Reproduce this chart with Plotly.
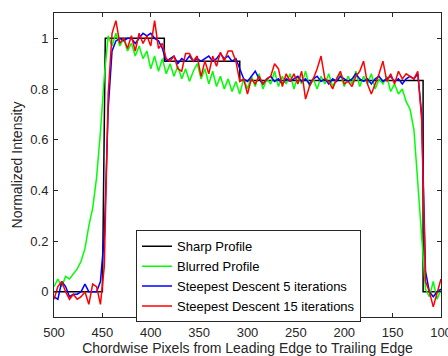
import plotly.graph_objects as go

# ---------------- data ----------------
sharp_x = [500, 450, 447, 386, 386, 308, 308, 118.5, 118.5, 100]
sharp_y = [0, 0, 1, 1, 0.91, 0.91, 0.834, 0.834, 0, 0]

grid_x = [500, 496, 492, 488, 484, 480, 476, 472, 468, 464, 460, 456, 452, 448, 444, 440,
          436, 432, 428, 424, 420, 416, 412, 408, 404, 400, 396, 392, 388, 384, 380, 376,
          372, 368, 364, 360, 356, 352, 348, 344, 340, 336, 332, 328, 324, 320, 316, 312,
          308, 304, 300, 296, 292, 288, 284, 280, 276, 272, 268, 264, 260, 256, 252, 248,
          244, 240, 236, 232, 228, 224, 220, 216, 212, 208, 204, 200, 196, 192, 188, 184,
          180, 176, 172, 168, 164, 160, 156, 152, 148, 144, 140, 136, 132, 128, 124, 120,
          116, 112, 108, 104, 100]

blurred_y = [0.02, 0.05, 0.02, 0.06, 0.05, 0.07, 0.09, 0.12, 0.17, 0.26, 0.33, 0.45, 0.63, 0.85, 1.01, 0.97,
             1.02, 0.97, 1.0, 0.95, 0.98, 0.93, 0.97, 0.92, 0.95, 0.88, 0.93, 0.87, 0.92, 0.86, 0.9, 0.85,
             0.89, 0.84, 0.88, 0.83, 0.87, 0.9, 0.84, 0.88, 0.82, 0.87, 0.81, 0.85, 0.8, 0.84, 0.79, 0.83,
             0.78, 0.84, 0.8, 0.85, 0.81, 0.86, 0.8, 0.84, 0.82, 0.87, 0.81, 0.85, 0.82, 0.86, 0.8, 0.85,
             0.82, 0.87, 0.81, 0.84, 0.8, 0.85, 0.82, 0.86, 0.81, 0.84, 0.86, 0.81, 0.85, 0.82, 0.87, 0.81,
             0.85, 0.82, 0.86, 0.8, 0.84, 0.82, 0.85, 0.79, 0.82, 0.78, 0.8, 0.75, 0.72, 0.64, 0.43, 0.2,
             0.01, -0.02, 0.04, -0.03, 0.01]

sd5_y = [-0.02, -0.03, 0.04, 0.02, -0.02, -0.01, -0.01, 0.0, 0.03, 0.0, 0.0, 0.0, 0.04, 0.22, 0.72, 0.95,
         0.99, 1.0, 0.99, 1.0, 1.0, 0.98, 1.0, 1.02, 1.01, 1.02, 1.0, 0.99, 0.96, 0.91, 0.92, 0.93,
         0.9, 0.92, 0.91, 0.93, 0.91, 0.92, 0.91, 0.92, 0.93, 0.91, 0.92, 0.94, 0.92, 0.93, 0.91, 0.92,
         0.88, 0.84, 0.83, 0.85, 0.87, 0.84, 0.82, 0.84, 0.85, 0.83, 0.84, 0.82, 0.84, 0.83, 0.84, 0.85,
         0.83, 0.84, 0.82, 0.84, 0.85, 0.83, 0.84, 0.82, 0.84, 0.83, 0.85, 0.84, 0.83, 0.84, 0.86, 0.84,
         0.83, 0.84, 0.82, 0.84, 0.85, 0.83, 0.84, 0.85, 0.83, 0.84, 0.82, 0.84, 0.85, 0.84, 0.86, 0.7,
         0.08, 0.0, -0.02, 0.0, 0.01]

sd15_y = [-0.03, 0.02, 0.04, 0.0, -0.03, -0.01, -0.03, -0.02, 0.0, -0.05, 0.03, 0.02, -0.05, 0.1, 0.78, 1.02,
          1.07, 0.98, 1.0, 0.96, 1.01, 0.95, 1.02, 0.98, 1.01, 0.97, 1.07, 0.96, 0.98, 0.92, 0.91, 0.93,
          0.88, 0.87, 0.94, 0.94, 0.91, 0.93, 0.85, 0.91, 0.86, 0.93, 0.89, 0.945, 0.91, 0.95, 0.95, 0.91,
          0.83, 0.84, 0.78, 0.84, 0.82, 0.85, 0.82, 0.84, 0.85, 0.9, 0.88, 0.81, 0.86, 0.83, 0.86, 0.82,
          0.87, 0.76, 0.81, 0.84, 0.88, 0.93, 0.84, 0.83, 0.8, 0.84, 0.87, 0.82, 0.83, 0.81, 0.85, 0.87,
          0.91, 0.82, 0.78, 0.82, 0.86, 0.91, 0.83, 0.86, 0.82, 0.87, 0.84, 0.86, 0.85, 0.84, 0.87, 0.68,
          0.04, 0.0, -0.06, 0.0, 0.05]

names = ["Sharp Profile", "Blurred Profile", "Steepest Descent 5 iterations",
         "Steepest Descent 15 iterations"]
colors = ["#000000", "#00ff00", "#0000ff", "#ff0000"]

x_ticks = [500, 450, 400, 350, 300, 250, 200, 150, 100]
y_ticks = [0, 0.2, 0.4, 0.6, 0.8, 1]
y_tick_text = ["0", "0.2", "0.4", "0.6", "0.8", "1"]

# ---------------- figure ----------------
fig = go.Figure()
series = [(sharp_x, sharp_y), (grid_x, blurred_y), (grid_x, sd5_y), (grid_x, sd15_y)]
for (xs, ys), nm, c in zip(series, names, colors):
    fig.add_trace(go.Scatter(x=xs, y=ys, mode="lines", name=nm,
                             line=dict(color=c, width=1.5)))

axis_common = dict(showline=True, linecolor="#262626", linewidth=1, mirror="ticks",
                   ticks="inside", ticklen=4, tickcolor="#262626", showgrid=False,
                   zeroline=False, automargin=False, ticklabeloverflow="allow",
                   tickfont=dict(size=13, color="#262626"),
                   title_font=dict(size=14, color="#262626"))

fig.update_layout(
    width=448, height=356,
    margin=dict(l=54, r=7, t=13, b=39),
    paper_bgcolor="white", plot_bgcolor="white",
    font=dict(family="Liberation Sans, Arial, sans-serif", color="#262626"),
    xaxis=dict(range=[500, 100], tickvals=x_ticks, ticklabelstandoff=3, title=dict(
        text="Chordwise Pixels from Leading Edge to Trailing Edge", standoff=4), **axis_common),
    yaxis=dict(range=[-0.1, 1.1], tickvals=y_ticks, ticktext=y_tick_text, ticklabelstandoff=2,
               title=dict(text="Normalized Intensity", standoff=4), **axis_common),
    legend=dict(x=0.212, y=0.285, xanchor="left", yanchor="top",
                bordercolor="#262626", borderwidth=1, bgcolor="white",
                font=dict(size=13, color="#000000"), tracegroupgap=0),
    showlegend=True,
)

fig.write_html("out.html")
